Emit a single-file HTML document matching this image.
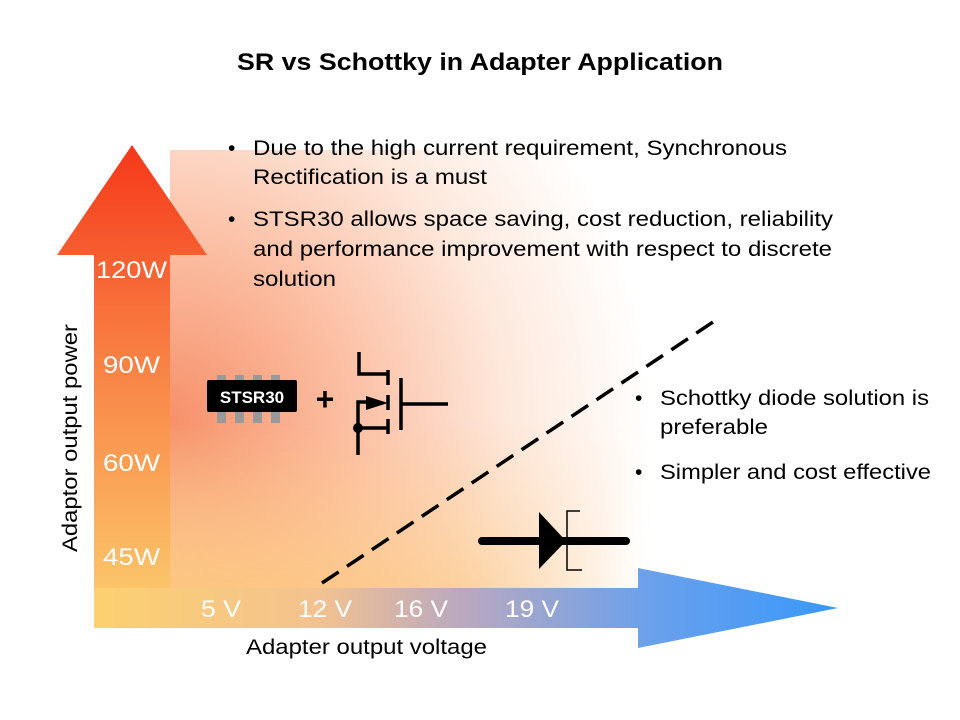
<!DOCTYPE html>
<html><head><meta charset="utf-8"><style>
body{margin:0;background:#fff;}
svg{display:block;font-family:"Liberation Sans",Arial,sans-serif;}
</style></head><body>
<svg width="960" height="720" viewBox="0 0 960 720" xmlns="http://www.w3.org/2000/svg">
<defs>
<radialGradient id="bg" cx="170" cy="420" r="480" gradientUnits="userSpaceOnUse">
<stop offset="0" stop-color="#f6906a"/>
<stop offset="0.35" stop-color="#fbbca0"/>
<stop offset="0.7" stop-color="#fde8dc"/>
<stop offset="1" stop-color="#ffffff"/>
</radialGradient>
<linearGradient id="yh" x1="170" y1="0" x2="650" y2="0" gradientUnits="userSpaceOnUse">
<stop offset="0" stop-color="#fff"/>
<stop offset="0.6" stop-color="#aaa"/>
<stop offset="1" stop-color="#000"/>
</linearGradient>
<linearGradient id="yv" x1="0" y1="420" x2="0" y2="588" gradientUnits="userSpaceOnUse">
<stop offset="0" stop-color="#000"/>
<stop offset="1" stop-color="#fff"/>
</linearGradient>
<mask id="ym" maskUnits="userSpaceOnUse" x="0" y="0" width="960" height="720">
<rect x="170" y="420" width="480" height="168" fill="url(#yh)"/>
</mask>
<mask id="ym2" maskUnits="userSpaceOnUse" x="0" y="0" width="960" height="720">
<rect x="170" y="420" width="480" height="168" fill="url(#yv)"/>
</mask>
<linearGradient id="vert" x1="0" y1="145" x2="0" y2="628" gradientUnits="userSpaceOnUse">
<stop offset="0" stop-color="#f5381a"/>
<stop offset="0.4" stop-color="#f87a40"/>
<stop offset="1" stop-color="#fcd070"/>
</linearGradient>
<linearGradient id="hor" x1="94" y1="0" x2="838" y2="0" gradientUnits="userSpaceOnUse">
<stop offset="0" stop-color="#fcd070"/>
<stop offset="0.3" stop-color="#f3c290"/>
<stop offset="0.5" stop-color="#b8a8c0"/>
<stop offset="0.75" stop-color="#6aa0ec"/>
<stop offset="1" stop-color="#3898fa"/>
</linearGradient>
</defs>
<rect x="170" y="150" width="480" height="438" fill="url(#bg)"/>
<g mask="url(#ym)"><rect x="170" y="420" width="480" height="168" fill="#fcc680" mask="url(#ym2)"/></g>
<polygon points="94,255 57,255 132,145 207,255 170,255 170,628 94,628" fill="url(#vert)"/>
<polygon points="94,588 638,588 638,568 838,608 638,648 638,628 94,628" fill="url(#hor)"/>
<text x="237" y="70" textLength="486" lengthAdjust="spacingAndGlyphs" font-size="24" font-weight="bold">SR vs Schottky in Adapter Application</text>
<g font-size="21" fill="#000">
<text x="228" y="155">•</text><text x="253" y="155" textLength="534" lengthAdjust="spacingAndGlyphs">Due to the high current requirement, Synchronous</text>
<text x="253" y="184" textLength="234" lengthAdjust="spacingAndGlyphs">Rectification is a must</text>
<text x="228" y="226">•</text><text x="253" y="226" textLength="580" lengthAdjust="spacingAndGlyphs">STSR30 allows space saving, cost reduction, reliability</text>
<text x="253" y="256" textLength="579" lengthAdjust="spacingAndGlyphs">and performance improvement with respect to discrete</text>
<text x="253" y="286" textLength="83" lengthAdjust="spacingAndGlyphs">solution</text>
<text x="635" y="405">•</text><text x="660" y="405" textLength="269" lengthAdjust="spacingAndGlyphs">Schottky diode solution is</text>
<text x="660" y="434" textLength="108" lengthAdjust="spacingAndGlyphs">preferable</text>
<text x="635" y="479">•</text><text x="660" y="479" textLength="271" lengthAdjust="spacingAndGlyphs">Simpler and cost effective</text>
<text x="246" y="654" textLength="241" lengthAdjust="spacingAndGlyphs">Adapter output voltage</text>
</g>
<text transform="translate(77,438) rotate(-90)" text-anchor="middle" font-size="21" textLength="228" lengthAdjust="spacingAndGlyphs">Adaptor output power</text>
<g font-size="24" fill="#fff">
<text x="96" y="278" textLength="71" lengthAdjust="spacingAndGlyphs">120W</text>
<text x="103" y="373" textLength="57" lengthAdjust="spacingAndGlyphs">90W</text>
<text x="103" y="471" textLength="57" lengthAdjust="spacingAndGlyphs">60W</text>
<text x="103" y="565" textLength="57" lengthAdjust="spacingAndGlyphs">45W</text>
<text x="201" y="617" textLength="40" lengthAdjust="spacingAndGlyphs">5 V</text>
<text x="298" y="617" textLength="54" lengthAdjust="spacingAndGlyphs">12 V</text>
<text x="394" y="617" textLength="54" lengthAdjust="spacingAndGlyphs">16 V</text>
<text x="505" y="617" textLength="54" lengthAdjust="spacingAndGlyphs">19 V</text>
</g>
<line x1="322" y1="583" x2="716" y2="320" stroke="#000" stroke-width="3.5" stroke-dasharray="20,10"/>
<g fill="#999">
<rect x="217" y="375" width="9" height="8"/><rect x="235" y="375" width="9" height="8"/><rect x="253" y="375" width="9" height="8"/><rect x="271" y="375" width="9" height="8"/>
<rect x="217" y="411" width="9" height="12"/><rect x="235" y="411" width="9" height="12"/><rect x="253" y="411" width="9" height="12"/><rect x="271" y="411" width="9" height="12"/>
</g>
<rect x="207" y="380" width="90" height="32" fill="#000" rx="2"/>
<text x="252" y="403" text-anchor="middle" font-size="17" font-weight="bold" fill="#fff">STSR30</text>
<text x="325" y="410" text-anchor="middle" font-size="32" font-weight="bold">+</text>
<g stroke="#000" stroke-width="3.5" fill="none">
<polyline points="359,352 359,374 388,374"/>
<line x1="388" y1="370" x2="388" y2="385"/>
<line x1="388" y1="395" x2="388" y2="410"/>
<line x1="388" y1="419" x2="388" y2="434"/>
<line x1="401" y1="378" x2="401" y2="430"/>
<line x1="401" y1="404" x2="448" y2="404"/>
<polyline points="358,455 358,402 370,402"/>
<line x1="358" y1="428" x2="388" y2="428"/>
</g>
<polygon points="366,396 388,403 366,410" fill="#000"/>
<circle cx="358" cy="428" r="5" fill="#000"/>
<line x1="482" y1="541" x2="626" y2="541" stroke="#000" stroke-width="8" stroke-linecap="round"/>
<polygon points="539,512 566,541 539,569" fill="#000"/>
<polyline points="580,511 567,511 567,570 582,570" stroke="#000" stroke-width="1.5" fill="none"/>
</svg>
</body></html>
